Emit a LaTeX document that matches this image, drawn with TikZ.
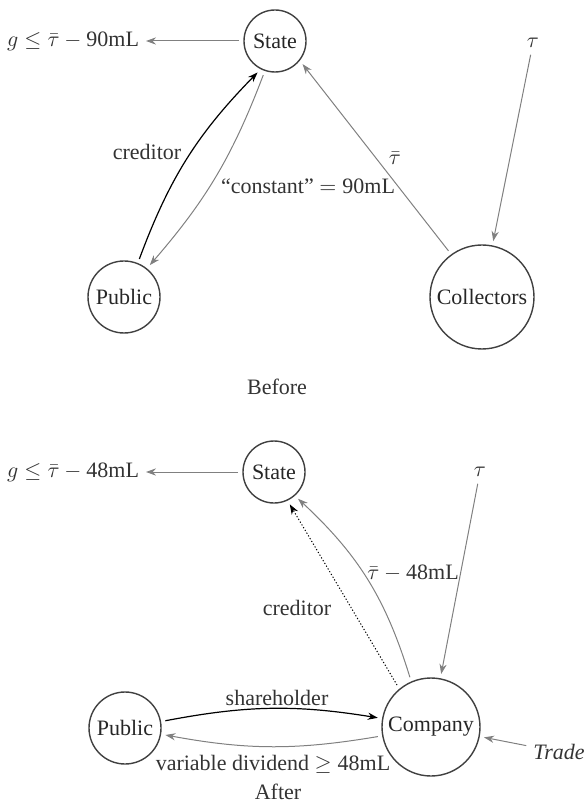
\documentclass[tikz,border=0pt]{standalone}
\usepackage{amsmath}
\usepackage{fontspec}
\setmainfont{Liberation Serif}
\usetikzlibrary{arrows.meta}

\begin{document}
\begin{tikzpicture}[
    x=0.5pt, y=-0.5pt,
    font=\fontsize{11}{13}\selectfont,
    % Node Styles
    agent/.style={circle, draw=black!75, line width=0.7pt, text=black!85, inner sep=0pt, outer sep=2.5pt},
    lbl/.style={text=black!80},
    % Edge Styles
    grayarrow/.style={-{Stealth[length=5pt, width=3.6pt]}, color=black!50, line width=0.5pt},
    blackarrow/.style={-{Stealth[length=5pt, width=3.6pt]}, color=black, line width=0.6pt},
    dotarrow/.style={blackarrow, densely dotted, line width=0.5pt}
]

\useasboundingbox (0,0) rectangle (585,806);

% Before
\node[agent, minimum size=31pt] (st1) at (275,41) {State};
\node[agent, minimum size=36pt] (pub1) at (124,297) {Public};
\node[agent, minimum size=52pt] (col) at (482,297) {Collectors};
\node[lbl, anchor=east] (g1) at (146,41) {$g \leq \bar{\tau} - \text{90mL}$};
\node[lbl] (tau1) at (533,43) {$\tau$};

\draw[grayarrow] (st1) -- (g1.east);
\draw[blackarrow] (pub1.68) to[bend left=12] (st1.241);
\draw[grayarrow] (st1.251) to[bend left=10] (pub1.51);
\draw[grayarrow] (col.126) -- (st1.-40);
\draw[grayarrow] (tau1) -- (col);

\node[lbl] (cred1) at (147,152) {creditor};
\node[lbl] (const1) at (308,186) {“constant” $= \text{90mL}$};
\node[lbl] (taubar1) at (395,158) {$\bar{\tau}$};
\node[lbl] (before) at (277,387) {Before};

% After
\node[agent, minimum size=31pt] (st2) at (274,472) {State};
\node[agent, minimum size=36pt] (pub2) at (125,728) {Public};
\node[agent, minimum size=49pt] (comp) at (431,727) {Company};
\node[lbl, anchor=east] (g2) at (146,472) {$g \leq \bar{\tau} - \text{48mL}$};
\node[lbl] (tau2) at (480,472) {$\tau$};
\node[lbl] (trade) at (559,752) {\itshape Trade};

\draw[grayarrow] (st2) -- (g2.east);
\draw[grayarrow] (comp.113) to[bend right=15] (st2.-48);
\draw[dotarrow] (comp.129) -- (st2.-64);
\draw[grayarrow] (tau2) -- (comp);
\draw[blackarrow] (pub2) to[bend left=10] (comp);
\draw[grayarrow] (comp) to[bend left=10] (pub2);
\draw[grayarrow] (trade) -- (comp);

\node[lbl] (taubar2) at (413,573) {$\bar{\tau} - \text{48mL}$};
\node[lbl] (cred2) at (297,608) {creditor};
\node[lbl] (share) at (277,698) {shareholder};
\node[lbl] (divid) at (273,764) {variable dividend $\geq \text{48mL}$};
\node[lbl] (after) at (278,792) {After};

\end{tikzpicture}
\end{document}
